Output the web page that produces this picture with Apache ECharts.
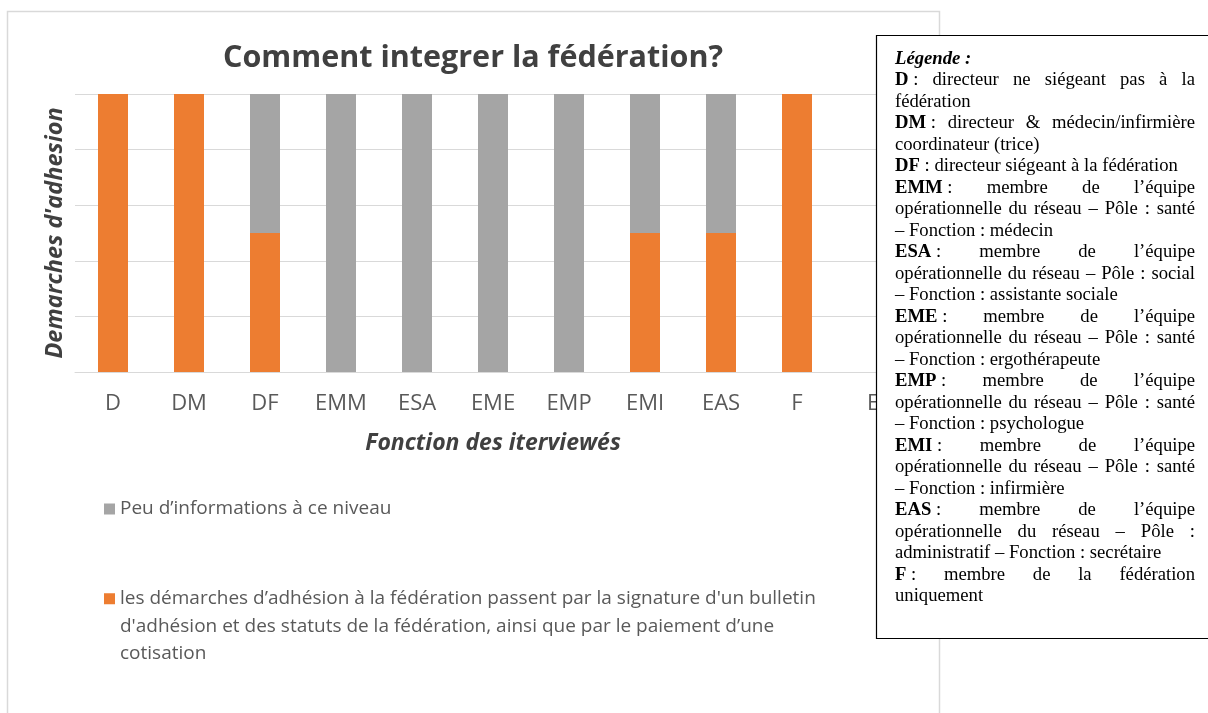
<!DOCTYPE html>
<html>
<head>
<meta charset="utf-8">
<script src="https://cdn.jsdelivr.net/npm/echarts@6/dist/echarts.min.js"></script>
<style>
html, body { margin: 0; padding: 0; background: #fff; }
#main { width: 1208px; height: 713px; }
</style>
</head>
<body>
<div id="main"></div>
<script>
// données du graphique
var categories = ['D', 'DM', 'DF', 'EMM', 'ESA', 'EME', 'EMP', 'EMI', 'EAS', 'F', 'E'];
var adhesionValues = [1, 1, 0.5, 0, 0, 0, 0, 0.5, 0.5, 1, 0];
var peuInfoValues = [0, 0, 0.5, 1, 1, 1, 1, 0.5, 0.5, 0, 0];
var peuInfoName = 'Peu d’informations à ce niveau';
var adhesionName = 'les démarches d’adhésion à la fédération passent par la signature d\'un bulletin d\'adhésion et des statuts de la fédération, ainsi que par le paiement d’une cotisation';
var adhesionLegendLines = [
    'les démarches d’adhésion à la fédération passent par la signature d\'un bulletin',
    'd\'adhésion et des statuts de la fédération, ainsi que par le paiement d’une',
    'cotisation'
];

// texte de la légende encadrée (b = abréviation en gras, j = ligne justifiée)
var boxLines = [
    {b: 'D', t: 'directeur ne siégeant pas à la', j: 1},
    {t: 'fédération'},
    {b: 'DM', t: 'directeur & médecin/infirmière', j: 1},
    {t: 'coordinateur (trice)'},
    {b: 'DF', t: 'directeur siégeant à la fédération'},
    {b: 'EMM', t: 'membre de l’équipe', j: 1},
    {t: 'opérationnelle du réseau – Pôle : santé', j: 1},
    {t: '– Fonction : médecin'},
    {b: 'ESA', t: 'membre de l’équipe', j: 1},
    {t: 'opérationnelle du réseau – Pôle : social', j: 1},
    {t: '– Fonction : assistante sociale'},
    {b: 'EME', t: 'membre de l’équipe', j: 1},
    {t: 'opérationnelle du réseau – Pôle : santé', j: 1},
    {t: '– Fonction : ergothérapeute'},
    {b: 'EMP', t: 'membre de l’équipe', j: 1},
    {t: 'opérationnelle du réseau – Pôle : santé', j: 1},
    {t: '– Fonction : psychologue'},
    {b: 'EMI', t: 'membre de l’équipe', j: 1},
    {t: 'opérationnelle du réseau – Pôle : santé', j: 1},
    {t: '– Fonction : infirmière'},
    {b: 'EAS', t: 'membre de l’équipe', j: 1},
    {t: 'opérationnelle du réseau – Pôle :', j: 1},
    {t: 'administratif – Fonction : secrétaire'},
    {b: 'F', t: 'membre de la fédération', j: 1},
    {t: 'uniquement'}
];

var serif = '"Liberation Serif", "Times New Roman", serif';
var sans = '"Open Sans", "Noto Sans", sans-serif';
var FS = 18.67;
var ctx = document.createElement('canvas').getContext('2d');
function measure(txt, bold) {
    ctx.font = (bold ? 'bold ' : '') + FS + 'px ' + serif;
    return ctx.measureText(txt).width;
}

function buildBox() {
    var els = [];
    var x0 = 895, x1 = 1195;
    els.push({
        type: 'rect', z: 100,
        shape: {x: 876.5, y: 35.5, width: 340, height: 603},
        style: {fill: '#fff', stroke: '#000', lineWidth: 1.2}
    });
    els.push({
        type: 'text', z: 101, x: x0, y: 59,
        style: {text: 'Légende :', font: 'italic bold ' + FS + 'px ' + serif, fill: '#000', verticalAlign: 'middle'}
    });
    boxLines.forEach(function (ln, i) {
        var y = 80.5 + i * 21.5;
        var words = [];
        if (ln.b) words.push({parts: [{s: ln.b, bold: true}, {s: ' :', bold: false}]});
        ln.t.split(' ').forEach(function (w) { words.push({parts: [{s: w, bold: false}]}); });
        var total = 0;
        words.forEach(function (w) {
            w.width = 0;
            w.parts.forEach(function (p) { p.w = measure(p.s, p.bold); w.width += p.w; });
            total += w.width;
        });
        var gap = ln.j && words.length > 1 ? (x1 - x0 - total) / (words.length - 1) : measure(' ', false);
        var x = x0;
        words.forEach(function (w) {
            var px = x;
            w.parts.forEach(function (p) {
                els.push({
                    type: 'text', z: 101, x: px, y: y,
                    style: {text: p.s, font: (p.bold ? 'bold ' : '') + FS + 'px ' + serif, fill: '#000', verticalAlign: 'middle'}
                });
                px += p.w;
            });
            x += w.width + gap;
        });
    });
    return els;
}

var myChart = echarts.init(document.getElementById('main'));

var option = {
    animation: false,
    backgroundColor: '#fff',
    title: {
        text: 'Comment integrer la fédération?',
        left: 468, top: 38, textAlign: 'center',
        textStyle: {fontFamily: sans, fontWeight: 'bold', fontSize: 30.5, color: '#404040'}
    },
    grid: {left: 75, top: 94, width: 836, height: 278, outerBoundsMode: 'none'},
    xAxis: {
        type: 'category',
        data: categories,
        axisLine: {lineStyle: {color: '#d9d9d9', width: 1}},
        axisTick: {show: false},
        axisLabel: {fontFamily: sans, fontSize: 22, color: '#595959', margin: 21},
        name: 'Fonction des iterviewés',
        nameLocation: 'middle',
        nameGap: 60,
        nameTextStyle: {fontFamily: sans, fontStyle: 'italic', fontWeight: 'bold', fontSize: 23, color: '#404040'}
    },
    yAxis: {
        type: 'value',
        min: 0, max: 1, interval: 0.2,
        axisLine: {show: false},
        axisTick: {show: false},
        axisLabel: {show: false},
        splitLine: {lineStyle: {color: '#d9d9d9', width: 1}},
        name: 'Demarches d\'adhesion',
        nameLocation: 'middle',
        nameGap: 8,
        nameTextStyle: {fontFamily: sans, fontStyle: 'italic', fontWeight: 'bold', fontSize: 23.5, color: '#404040'}
    },
    legend: [{
        data: [peuInfoName],
        left: 104, top: 498, padding: 0,
        icon: 'rect', itemWidth: 11, itemHeight: 11, itemGap: 5,
        textStyle: {fontFamily: sans, fontSize: 19, color: '#595959', lineHeight: 22}
    }, {
        data: [adhesionName],
        left: 104, top: 585, padding: 0,
        // carré en haut d'une icône haute, pour l'aligner sur la première ligne du texte
        icon: 'path://M0,0L11,0L11,11L0,11Z M0,66L11,66',
        itemWidth: 11, itemHeight: 66, itemGap: 5,
        formatter: function () { return adhesionLegendLines.join('\n'); },
        textStyle: {fontFamily: sans, fontSize: 19, color: '#595959', lineHeight: 27.5}
    }],
    series: [{
        name: adhesionName,
        type: 'bar',
        stack: 'total',
        barWidth: 30,
        data: adhesionValues,
        itemStyle: {color: '#ED7D31'}
    }, {
        name: peuInfoName,
        type: 'bar',
        stack: 'total',
        barWidth: 30,
        data: peuInfoValues,
        itemStyle: {color: '#A5A5A5'}
    }],
    graphic: [{
        type: 'rect', z: -1, silent: true,
        shape: {x: 7.5, y: 11.5, width: 932, height: 740},
        style: {fill: 'none', stroke: '#d9d9d9', lineWidth: 1.5}
    }].concat(buildBox())
};

myChart.setOption(option);
</script>
</body>
</html>
